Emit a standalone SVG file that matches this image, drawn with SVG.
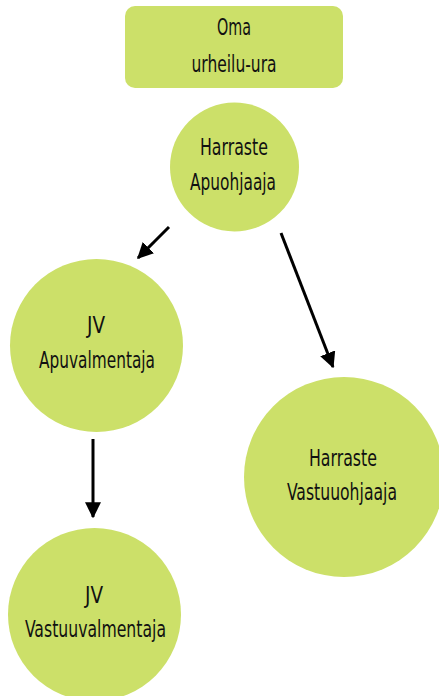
<svg xmlns="http://www.w3.org/2000/svg" width="439" height="696" viewBox="0 0 439 696">
<style>
.n{fill:#cce069;}
.t{font-family:"DejaVu Sans Condensed","DejaVu Sans","Liberation Sans",sans-serif;font-size:23px;fill:#111;text-anchor:middle;}
.c{stroke:#000;stroke-width:3;fill:none;marker-end:url(#ah);}
</style>
<defs>
<marker id="ah" markerUnits="userSpaceOnUse" markerWidth="16" markerHeight="16" viewBox="0 0 12 12" refX="11" refY="6" orient="auto">
<path d="M0,0 L12,6 L0,12 Z" fill="#000"/>
</marker>
</defs>
<rect width="439" height="696" fill="#fff"/>
<g id="oma">
<rect class="n" x="125" y="6" width="218" height="82" rx="10"/>
<text class="t" x="234" y="35" textLength="34" lengthAdjust="spacingAndGlyphs">Oma</text>
<text class="t" x="234" y="72" textLength="85" lengthAdjust="spacingAndGlyphs">urheilu-ura</text>
</g>
<g id="harraste-apuohjaaja">
<circle class="n" cx="234.5" cy="167" r="64.5"/>
<text class="t" x="234" y="155" textLength="68" lengthAdjust="spacingAndGlyphs">Harraste</text>
<text class="t" x="233" y="190" textLength="86" lengthAdjust="spacingAndGlyphs">Apuohjaaja</text>
</g>
<g id="jv-apuvalmentaja">
<circle class="n" cx="96.5" cy="345.5" r="86.5"/>
<text class="t" x="96" y="333" textLength="18" lengthAdjust="spacingAndGlyphs">JV</text>
<text class="t" x="97" y="368" textLength="116" lengthAdjust="spacingAndGlyphs">Apuvalmentaja</text>
</g>
<g id="harraste-vastuuohjaaja">
<circle class="n" cx="344" cy="477" r="100"/>
<text class="t" x="343" y="466" textLength="68" lengthAdjust="spacingAndGlyphs">Harraste</text>
<text class="t" x="342" y="500" textLength="110" lengthAdjust="spacingAndGlyphs">Vastuuohjaaja</text>
</g>
<g id="jv-vastuuvalmentaja">
<circle class="n" cx="94.5" cy="614.5" r="86.5"/>
<text class="t" x="94" y="603" textLength="18" lengthAdjust="spacingAndGlyphs">JV</text>
<text class="t" x="95.5" y="637" textLength="141" lengthAdjust="spacingAndGlyphs">Vastuuvalmentaja</text>
</g>
<g id="connectors">
<line class="c" x1="169" y1="227" x2="138" y2="258"/>
<line class="c" x1="281" y1="233" x2="333" y2="367"/>
<line class="c" x1="93" y1="439" x2="93" y2="517"/>
</g>
</svg>
